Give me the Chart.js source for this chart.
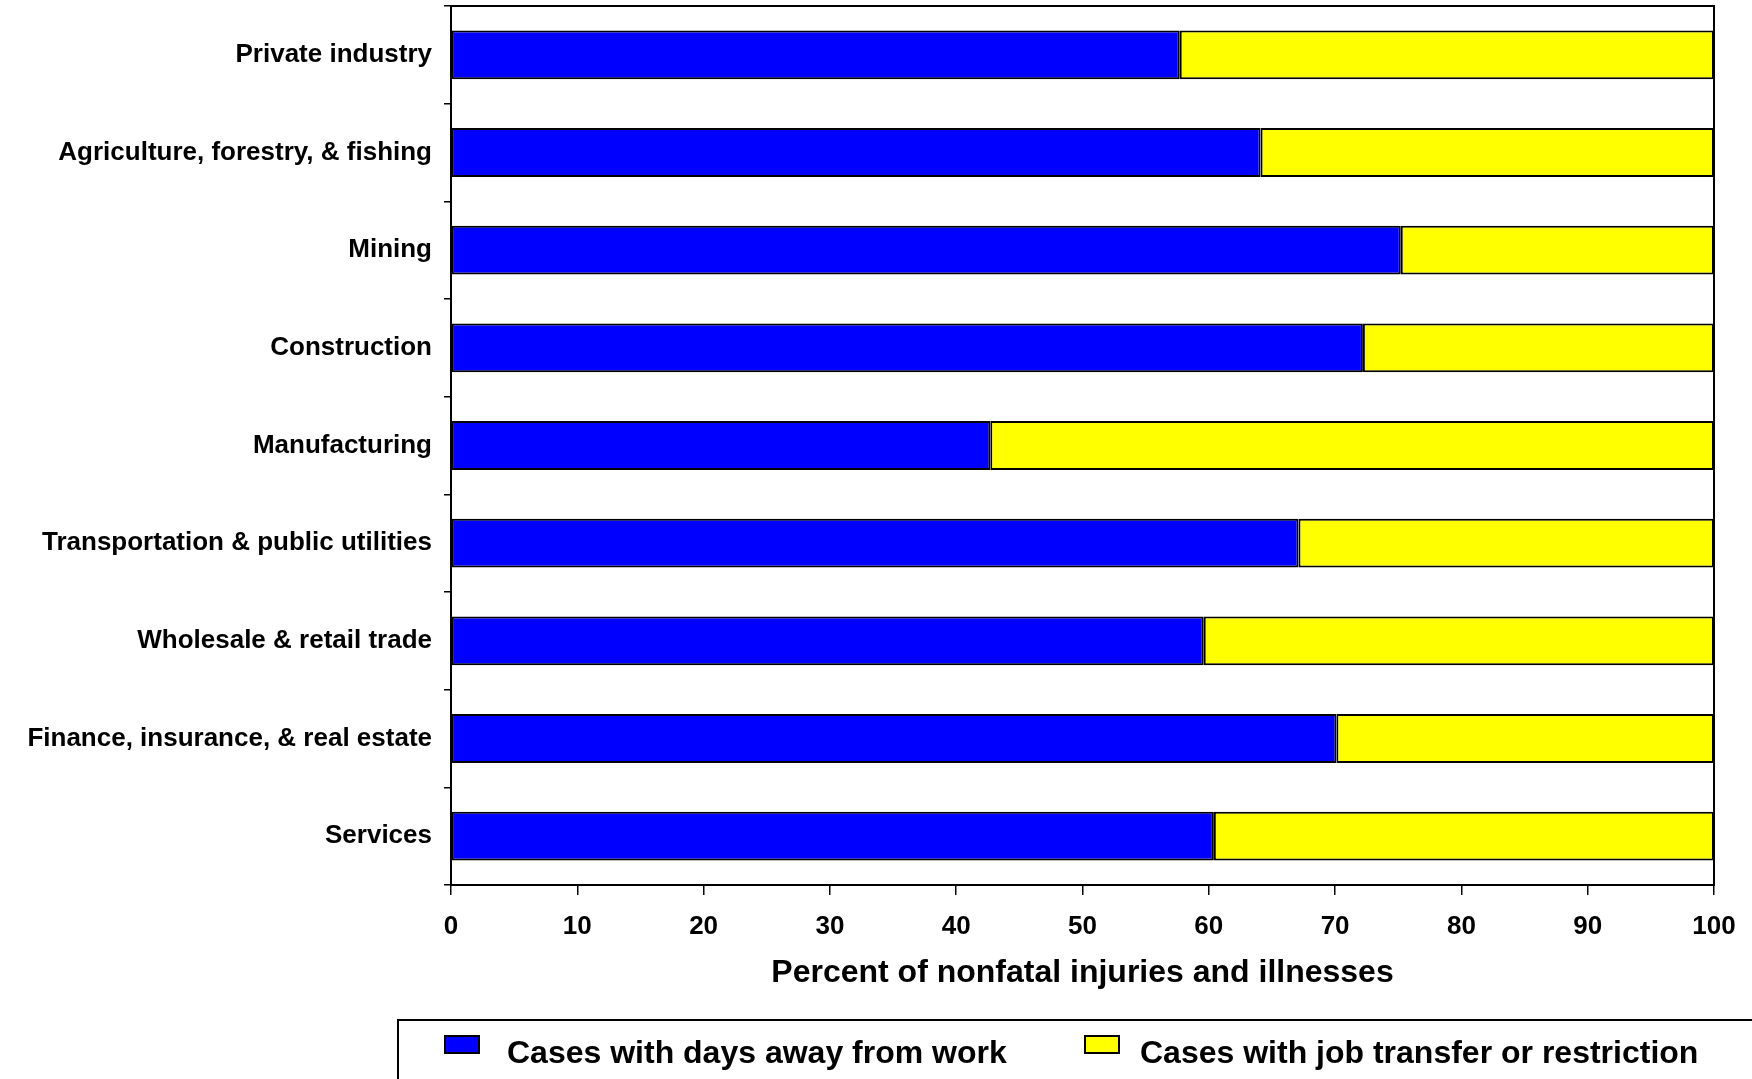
<!DOCTYPE html>
<html>
<head>
<meta charset="utf-8">
<script src="https://cdn.jsdelivr.net/npm/chart.js@4.4.1/dist/chart.umd.min.js"></script>
<style>
  html, body { margin: 0; padding: 0; background: #fff; }
  #wrap { width: 1752px; height: 1079px; }
</style>
</head>
<body>
<div id="wrap"><canvas id="injuryChart" width="1752" height="1079"></canvas></div>
<script>
// Industry categories (top to bottom)
const industries = [
    'Private industry',
    'Agriculture, forestry, & fishing',
    'Mining',
    'Construction',
    'Manufacturing',
    'Transportation & public utilities',
    'Wholesale & retail trade',
    'Finance, insurance, & real estate',
    'Services'
];

// Percent of cases
const daysAway = [57.7, 64.1, 75.2, 72.2, 42.7, 67.1, 59.6, 70.1, 60.4];
const jobTransfer = [42.3, 35.9, 24.8, 27.8, 57.3, 32.9, 40.4, 29.9, 39.6];

const seriesNames = ['Cases with days away from work', 'Cases with job transfer or restriction'];
const seriesColors = ['#0000ff', '#ffff00'];

const xTicks = [0, 10, 20, 30, 40, 50, 60, 70, 80, 90, 100];
const xTitle = 'Percent of nonfatal injuries and illnesses';

const fontFamily = '"Liberation Sans", Arial, Helvetica, sans-serif';

// Frame around the plot area and the boxed legend at the bottom
const framePlugin = {
    id: 'frameAndLegend',
    afterDraw(chart) {
        const ctx = chart.ctx;
        const area = chart.chartArea;
        ctx.save();
        ctx.strokeStyle = '#000';
        ctx.lineWidth = 2;
        ctx.strokeRect(area.left, area.top, area.right - area.left, area.bottom - area.top);

        // legend box
        ctx.strokeRect(398, 1020, 1500, 200);
        const items = [
            { box: 445, text: 507 },
            { box: 1085, text: 1140 }
        ];
        ctx.font = 'bold 32px ' + fontFamily;
        ctx.textBaseline = 'alphabetic';
        ctx.textAlign = 'left';
        chart.data.datasets.forEach((ds, i) => {
            const it = items[i];
            ctx.fillStyle = ds.backgroundColor;
            ctx.fillRect(it.box, 1036, 34, 17);
            ctx.lineWidth = 2;
            ctx.strokeStyle = '#000';
            ctx.strokeRect(it.box, 1036, 34, 17);
            ctx.fillStyle = '#000';
            ctx.fillText(ds.label, it.text, 1063);
        });
        ctx.restore();
    }
};

document.addEventListener('DOMContentLoaded', function () {
    const canvas = document.getElementById('injuryChart');
    const context = canvas.getContext('2d');

    new Chart(context, {
        type: 'bar',
        data: {
            labels: industries,
            datasets: [
                {
                    label: seriesNames[0],
                    data: daysAway,
                    backgroundColor: seriesColors[0],
                    borderColor: '#000',
                    borderWidth: 2,
                    borderSkipped: false
                },
                {
                    label: seriesNames[1],
                    data: jobTransfer,
                    backgroundColor: seriesColors[1],
                    borderColor: '#000',
                    borderWidth: 2,
                    borderSkipped: false
                }
            ]
        },
        options: {
            indexAxis: 'y',
            responsive: false,
            animation: false,
            devicePixelRatio: 1,
            categoryPercentage: 0.5,
            barPercentage: 1,
            layout: {
                padding: { top: 6, right: 38, bottom: 87, left: 0 }
            },
            plugins: {
                legend: { display: false },
                tooltip: { enabled: false }
            },
            scales: {
                x: {
                    stacked: true,
                    min: 0,
                    max: 100,
                    afterBuildTicks: function (scale) {
                        scale.ticks = xTicks.map(v => ({ value: v }));
                    },
                    afterFit: function (scale) {
                        scale.height = 107;
                    },
                    grid: {
                        drawOnChartArea: false,
                        drawTicks: true,
                        tickLength: 10,
                        color: '#000',
                        lineWidth: 1.5
                    },
                    border: { display: true, color: '#000', width: 2 },
                    ticks: {
                        color: '#000',
                        padding: 16,
                        maxRotation: 0,
                        autoSkip: false,
                        font: { family: fontFamily, size: 26, weight: 'bold' }
                    },
                    title: {
                        display: true,
                        text: xTitle,
                        color: '#000',
                        padding: { top: 0, bottom: 0 },
                        font: { family: fontFamily, size: 32, weight: 'bold' }
                    }
                },
                y: {
                    stacked: true,
                    afterFit: function (scale) {
                        scale.width = 451;
                        scale.paddingTop = 0;
                        scale.paddingBottom = 0;
                    },
                    grid: {
                        drawOnChartArea: false,
                        drawTicks: true,
                        tickLength: 7,
                        color: '#000',
                        lineWidth: 1.5
                    },
                    border: { display: true, color: '#000', width: 2 },
                    ticks: {
                        color: '#000',
                        padding: 12,
                        autoSkip: false,
                        font: { family: fontFamily, size: 26, weight: 'bold' }
                    }
                }
            }
        },
        plugins: [framePlugin]
    });
});
</script>
</body>
</html>
